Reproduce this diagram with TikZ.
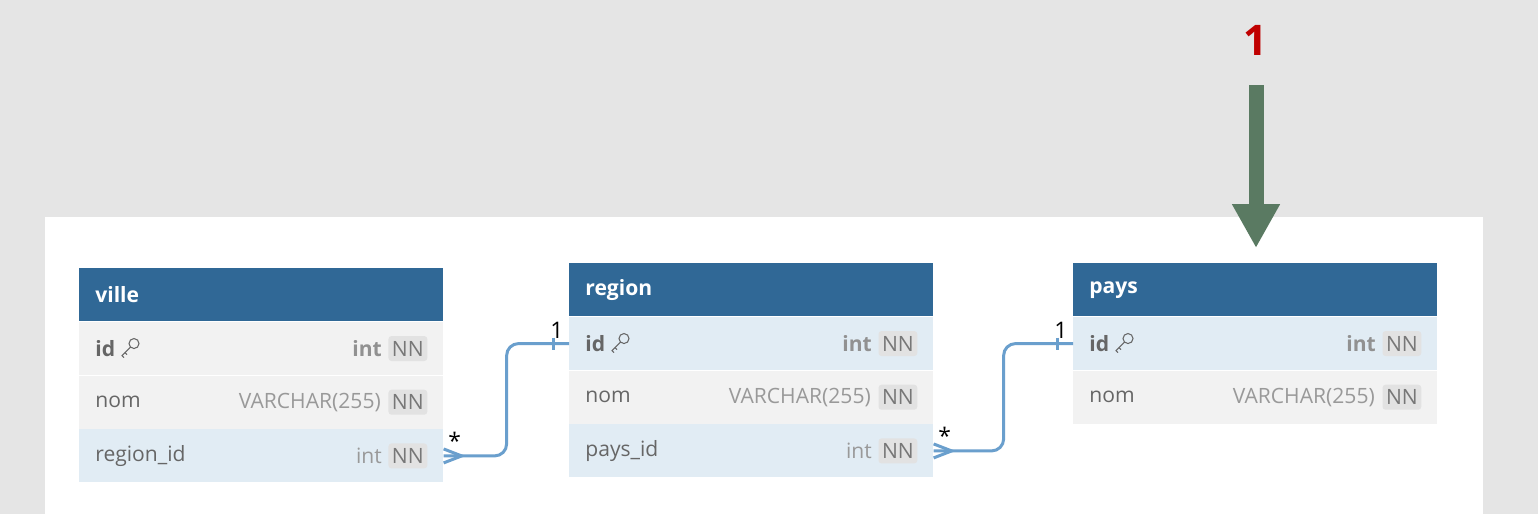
\documentclass[tikz,border=0pt]{standalone}
\usepackage{fontspec}
\setmainfont{Open Sans}
\usetikzlibrary{arrows.meta,positioning}
\definecolor{pagegray}{HTML}{E5E5E5}
\definecolor{hdblue}{HTML}{306896}
\definecolor{rowgray}{HTML}{F2F2F2}
\definecolor{rowblue}{HTML}{E1ECF4}
\definecolor{fieldtxt}{HTML}{666666}
\definecolor{typetxt}{HTML}{999999}
\definecolor{nnfill}{HTML}{E2E2E2}
\definecolor{nntxt}{HTML}{777777}
\definecolor{relblue}{HTML}{6A9FCD}
\definecolor{arrgreen}{HTML}{5A7A62}
\definecolor{badgered}{HTML}{C00000}

\begin{document}
\begin{tikzpicture}[x=0.02cm,y=-0.02cm, every node/.style={font=\fontsize{12}{14}\selectfont},
 tblhead/.style={fill=hdblue,text=white,font=\fontsize{12}{14}\selectfont\bfseries,anchor=north west,text width=6.64cm,inner xsep=0.32cm,inner ysep=0pt,minimum height=1.06cm,align=left},
 tblrow/.style={text=fieldtxt,text width=6.64cm,inner xsep=0.32cm,inner ysep=0pt,minimum height=1.06cm,align=left},
 rowg/.style={tblrow,fill=rowgray},
 rowb/.style={tblrow,fill=rowblue},
 nn/.style={fill=nnfill,text=nntxt,rounded corners=0.06cm,inner xsep=0.07cm,inner ysep=0pt,minimum height=0.5cm},
 typ/.style={text=typetxt,inner sep=0pt},
 pktyp/.style={typ,font=\fontsize{12}{14}\selectfont\bfseries,text=typetxt!95!black},
 keyline/.style={draw=fieldtxt,line width=0.6pt},
 rel/.style={draw=relblue,line width=1.7pt,rounded corners=0.24cm},
 card/.style={font=\fontsize{13}{15}\selectfont,inner sep=0pt},
 bigarrow/.style={draw=arrgreen,line width=0.3cm,-{Triangle[length=0.88cm,width=0.9cm]}},
 keyicon/.pic={\draw[keyline] (4,-4) circle[radius=5]; \draw[keyline] (0.5,-0.5) -- (-8,8) -- (-6,10); \draw[keyline] (-5,5) -- (-3,7);}]
% canvas
\fill[pagegray] (0,0) rectangle (1538,514);
\fill[white] (45,217) rectangle (1483,514);
\useasboundingbox (0,0) rectangle (1538,514);
% table ville
\node[tblhead] (ville) at (79,268) {ville};
\node[rowg,below=0cm of ville] (ville-id) {\textbf{id}};
\node[rowg,below=0cm of ville-id] (ville-nom) {nom};
\node[rowb,below=0cm of ville-nom] (ville-region) {region\_id};
\pic at ([shift={(51,-1)}]ville-id.west) {keyicon};
\node[nn,anchor=east] (ville-id-nn) at ([xshift=-0.32cm]ville-id.east) {NN};
\node[pktyp,left=0.12cm of ville-id-nn] {int};
\node[nn,anchor=east] (ville-nom-nn) at ([xshift=-0.32cm]ville-nom.east) {NN};
\node[typ,left=0.14cm of ville-nom-nn] {VARCHAR(255)};
\node[nn,anchor=east] (ville-region-nn) at ([xshift=-0.32cm]ville-region.east) {NN};
\node[typ,left=0.12cm of ville-region-nn] {int};
% table region
\node[tblhead] (region) at (569,263) {region};
\node[rowb,below=0cm of region] (region-id) {\textbf{id}};
\node[rowg,below=0cm of region-id] (region-nom) {nom};
\node[rowb,below=0cm of region-nom] (region-pays) {pays\_id};
\pic at ([shift={(51,-1)}]region-id.west) {keyicon};
\node[nn,anchor=east] (region-id-nn) at ([xshift=-0.32cm]region-id.east) {NN};
\node[pktyp,left=0.12cm of region-id-nn] {int};
\node[nn,anchor=east] (region-nom-nn) at ([xshift=-0.32cm]region-nom.east) {NN};
\node[typ,left=0.14cm of region-nom-nn] {VARCHAR(255)};
\node[nn,anchor=east] (region-pays-nn) at ([xshift=-0.32cm]region-pays.east) {NN};
\node[typ,left=0.12cm of region-pays-nn] {int};
% table pays
\node[tblhead] (pays) at (1073,263) {pays};
\node[rowb,below=0cm of pays] (pays-id) {\textbf{id}};
\node[rowg,below=0cm of pays-id] (pays-nom) {nom};
\pic at ([shift={(51,-1)}]pays-id.west) {keyicon};
\node[nn,anchor=east] (pays-id-nn) at ([xshift=-0.32cm]pays-id.east) {NN};
\node[pktyp,left=0.12cm of pays-id-nn] {int};
\node[nn,anchor=east] (pays-nom-nn) at ([xshift=-0.32cm]pays-nom.east) {NN};
\node[typ,left=0.14cm of pays-nom-nn] {VARCHAR(255)};
% relations
\draw[rel] (ville-region.east) -- ++(63,0) |- (region-id.west);
\draw[rel,rounded corners=0pt] ([shift={(0,-7)}]ville-region.east) -- ([shift={(18,0)}]ville-region.east) -- ([shift={(0,7)}]ville-region.east);
\draw[rel] ([shift={(-16,-6)}]region-id.west) -- ++(0,12);
\node[card] at ([shift={(11,-15)}]ville-region.east) {*};
\node[card] at ([shift={(-12,-13)}]region-id.west) {1};
\draw[rel] (region-pays.east) -- ++(70,0) |- (pays-id.west);
\draw[rel,rounded corners=0pt] ([shift={(0,-7)}]region-pays.east) -- ([shift={(18,0)}]region-pays.east) -- ([shift={(0,7)}]region-pays.east);
\draw[rel] ([shift={(-16,-6)}]pays-id.west) -- ++(0,12);
\node[card] at ([shift={(11,-15)}]region-pays.east) {*};
\node[card] at ([shift={(-12,-13)}]pays-id.west) {1};
% marker
\node[text=badgered,font=\fontsize{24}{28}\selectfont\bfseries] (badge1) at (1256,40) {1};
\coordinate (arrtop) at (1256,85);
\draw[bigarrow,shorten >=0.3cm] (arrtop) -- (arrtop |- pays.north);
\end{tikzpicture}
\end{document}
